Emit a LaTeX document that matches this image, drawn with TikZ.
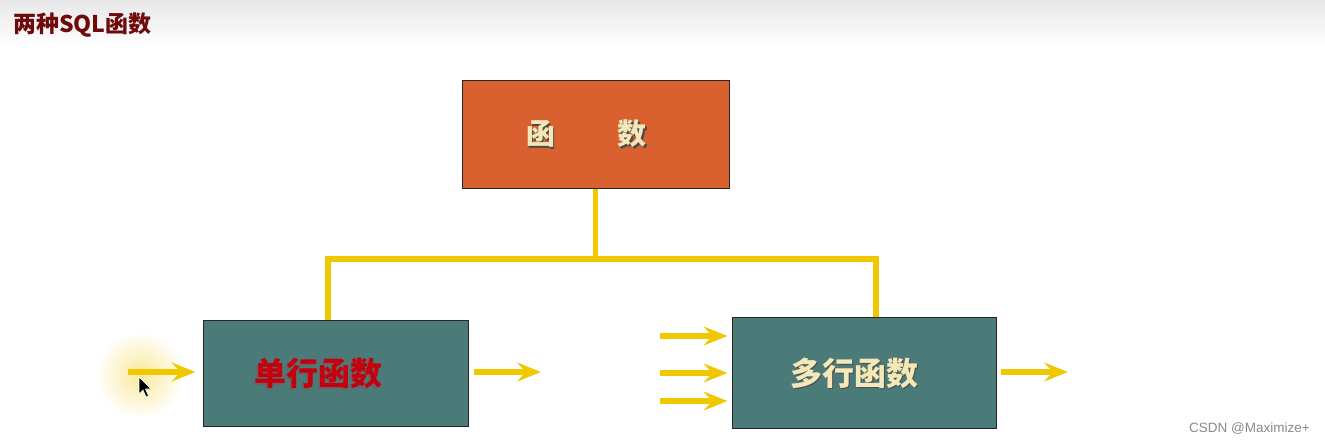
\documentclass[tikz,border=0pt]{standalone}
\usepackage{fontspec}
\setmainfont{Liberation Sans}
\newfontfamily\cjk{Noto Sans CJK SC}
\usetikzlibrary{arrows.meta}
\definecolor{orangebox}{HTML}{D8612F}
\definecolor{tealbox}{HTML}{4B7B79}
\definecolor{ylw}{HTML}{F0C800}
\definecolor{cream}{HTML}{F4E8B8}
\definecolor{redtxt}{HTML}{C4000F}
\definecolor{titlered}{HTML}{6E0A0A}
\definecolor{wmgrey}{HTML}{8A8A8A}
\tikzset{
  boxstyle/.style={draw=black!85, line width=1pt, inner sep=0pt},
  conn/.style={draw=ylw, line width=5.5pt},
  yarrow/.style={draw=ylw, line width=5.5pt, -{Stealth[length=24pt,width=19pt,inset=9pt]}},
  boxtext/.style={font=\cjk\bfseries\fontsize{32}{36}\selectfont},
  toptext/.style={font=\cjk\bfseries\fontsize{29}{33}\selectfont},
}
\begin{document}
\begin{tikzpicture}[x=1pt,y=-1pt]
\useasboundingbox (0,0) rectangle (1325,444);
\fill[white] (0,0) rectangle (1325,444);
\shade[top color=black!9, bottom color=white] (0,0) rectangle (1325,48);
\node[anchor=west, text=titlered, font=\cjk\bfseries\fontsize{23}{26}\selectfont, inner sep=0pt] (title) at (13,25) {两种SQL函数};

% glow behind left arrow
\shade[inner color=ylw!40, outer color=white] (140,375) circle (44);

% boxes
\node[boxstyle, fill=orangebox, minimum width=267pt, minimum height=108pt] (top) at (595.5,134) {};
\node[boxstyle, fill=tealbox, minimum width=265pt, minimum height=106pt] (left) at (335.5,373) {};
\node[boxstyle, fill=tealbox, minimum width=264pt, minimum height=111pt] (right) at (864,372.5) {};

% box texts (with a soft shadow)
\node[toptext, text=black!70] at (542,135.5) {函};
\node[toptext, text=cream] (t1) at (540.5,134) {函};
\node[toptext, text=black!70] at (633.5,135.5) {数};
\node[toptext, text=cream] (t2) at (632,134) {数};
\node[boxtext, text=black!60] at (316.5,375.5) {单行函数};
\node[boxtext, text=redtxt] (t3) at (318.5,373.5) {单行函数};
\node[boxtext, text=black!70] at (855.5,374.5) {多行函数};
\node[boxtext, text=cream] (t4) at (854,373) {多行函数};

% tree connectors
\coordinate (jl) at (328,259);
\coordinate (jr) at (876,259);
\coordinate (jm) at (top.south |- jl);
\draw[conn] (top.south) -- (jm);
\draw[conn, line cap=rect] (jl) -- (jr);
\draw[conn] (jl) -- (jl |- left.north);
\draw[conn] (jr) -- (jr |- right.north);

% arrows
\coordinate (a1) at (128,372);
\coordinate (a2e) at (541,372);
\coordinate (b1) at (660,336);
\coordinate (b2) at (660,373);
\coordinate (b3) at (660,401);
\coordinate (c2e) at (1068,372);
\draw[yarrow, shorten >=7pt] (a1) -- (left.west |- a1);
\draw[yarrow] (left.east |- a2e) ++(5,0) coordinate (a2s) (a2s) -- (a2e);
\draw[yarrow, shorten >=4pt] (b1) -- (right.west |- b1);
\draw[yarrow, shorten >=4pt] (b2) -- (right.west |- b2);
\draw[yarrow, shorten >=4pt] (b3) -- (right.west |- b3);
\draw[yarrow] (right.east |- c2e) ++(4,0) coordinate (c2s) (c2s) -- (c2e);

% mouse cursor
\draw[fill=black, draw=white, line width=0.6pt, line join=round]
  (139,377) -- ++(0,17) -- ++(4,-4) -- ++(3,7) -- ++(2.5,-1) -- ++(-3,-7) -- ++(5.5,0) -- cycle;

% watermark
\node[anchor=east, text=wmgrey, font=\fontsize{13.5}{15}\selectfont, inner sep=0pt] (wm) at (1310,429) {CSDN @Maximize+};
\end{tikzpicture}
\end{document}
